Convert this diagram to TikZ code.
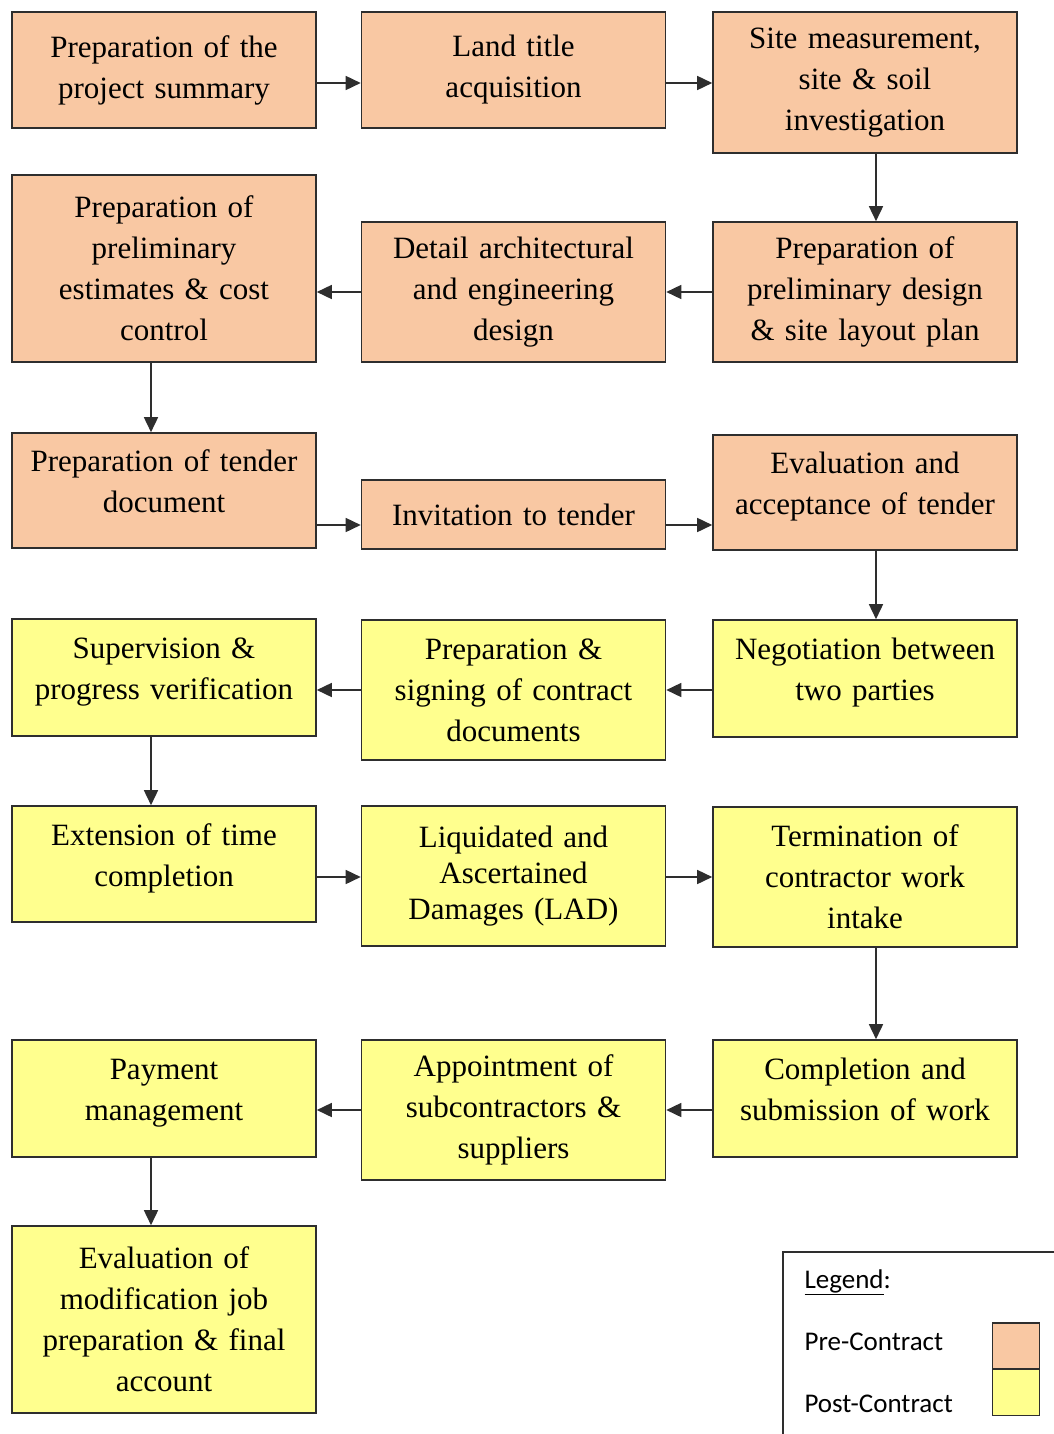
\documentclass[tikz,border=0pt]{standalone}
\usepackage{fontspec}
\setmainfont{Liberation Serif}
\setsansfont{Carlito}
\usetikzlibrary{arrows.meta}

\definecolor{precol}{HTML}{F9C8A3}
\definecolor{postcol}{HTML}{FFFF8E}
\definecolor{edgecol}{HTML}{2E2E2E}

\begin{document}
\begin{tikzpicture}[x=1pt,y=-1pt]
    \tikzstyle{every node}=[font=\rmfamily\fontsize{31}{41}\selectfont]
    \def\w{304pt}
    \def\lift{\rule[-18pt]{0pt}{18pt}}
    \tikzstyle{stage}=[draw=edgecol, line width=1.6pt, minimum width=\w, text width=290pt, align=center, inner sep=0pt]
    \tikzstyle{pre}=[stage, fill=precol]
    \tikzstyle{post}=[stage, fill=postcol]
    \tikzstyle{flow}=[draw=edgecol, line width=1.6pt, -{Triangle[length=15pt,width=14pt]}]
    \tikzstyle{swatch}=[draw=edgecol, line width=1.4pt, minimum width=47pt, minimum height=46pt, inner sep=0pt]
    \tikzstyle{legendtext}=[anchor=base west, font=\sffamily\fontsize{27}{32}\selectfont]
    \useasboundingbox (0,0) rectangle (1054,1434);

    % Pre-contract stages
    \node[pre, minimum height=116pt] (summary) at (164,70) {Preparation of the\\project summary};
    \node[pre, minimum height=116pt] (land) at (513.5,70) {Land title\\acquisition};
    \node[pre, minimum height=141pt] (site) at (865,82.5) {Site measurement,\\site \& soil\\investigation};
    \node[pre, minimum height=187pt] (estimate) at (164,268.5) {Preparation of\\preliminary\\estimates \& cost\\control};
    \node[pre, minimum height=140pt] (detail) at (513.5,292) {Detail architectural\\and engineering\\design};
    \node[pre, minimum height=140pt] (layout) at (865,292) {Preparation of\\preliminary design\\\& site layout plan};
    \node[pre, minimum height=115pt] (tenderdoc) at (164,490.5) {Preparation of tender\\document\lift};
    \node[pre, minimum height=69pt] (invite) at (513.5,514.5) {Invitation to tender};
    \node[pre, minimum height=115pt] (accept) at (865,492.5) {Evaluation and\\acceptance of tender\lift};

    % Post-contract stages
    \node[post, minimum height=117pt] (supervise) at (164,677.5) {Supervision \&\\progress verification\lift};
    \node[post, minimum height=140pt] (signing) at (513.5,690) {Preparation \&\\signing of contract\\documents};
    \node[post, minimum height=117pt] (negotiate) at (865,678.5) {Negotiation between\\two parties\lift};
    \node[post, minimum height=116pt] (extension) at (164,864) {Extension of time\\completion\lift};
    \node[post, minimum height=140pt] (damages) at (513.5,876) {Liquidated and\\[-5pt]Ascertained\\[-5pt]Damages (LAD)};
    \node[post, minimum height=140pt] (terminate) at (865,877) {Termination of\\contractor work\\intake};
    \node[post, minimum height=117pt] (payment) at (164,1098.5) {Payment\\management\lift};
    \node[post, minimum height=140pt] (appoint) at (513.5,1110) {Appointment of\\subcontractors \&\\suppliers};
    \node[post, minimum height=117pt] (complete) at (865,1098.5) {Completion and\\submission of work\lift};
    \node[post, minimum height=187pt] (final) at (164,1319.5) {Evaluation of\\modification job\\preparation \& final\\account};

    % Draw the flow
    \draw[flow] ([yshift=-13pt]summary.east) -- ([yshift=-13pt]land.west);
    \draw[flow] ([yshift=-13pt]land.east) -- ([yshift=-0.5pt]site.west);
    \draw[flow] ([xshift=11pt]site.south) -- ([xshift=11pt]layout.north);
    \draw[flow] (layout.west) -- (detail.east);
    \draw[flow] (detail.west) -- (detail.west -| estimate.east);
    \draw[flow] ([xshift=-13pt]estimate.south) -- ([xshift=-13pt]tenderdoc.north);
    \draw[flow] ([yshift=-34.5pt]tenderdoc.east) -- ([yshift=-10.5pt]invite.west);
    \draw[flow] ([yshift=-10.5pt]invite.east) -- ([yshift=-32.5pt]accept.west);
    \draw[flow] ([xshift=11pt]accept.south) -- ([xshift=11pt]negotiate.north);
    \draw[flow] ([yshift=-11.5pt]negotiate.west) -- (signing.east);
    \draw[flow] (signing.west) -- ([yshift=-12.5pt]supervise.east);
    \draw[flow] ([xshift=-13pt]supervise.south) -- ([xshift=-13pt]extension.north);
    \draw[flow] ([yshift=-13pt]extension.east) -- ([yshift=-1pt]damages.west);
    \draw[flow] ([yshift=-1pt]damages.east) -- (terminate.west);
    \draw[flow] ([xshift=11pt]terminate.south) -- ([xshift=11pt]complete.north);
    \draw[flow] ([yshift=-11.5pt]complete.west) -- (appoint.east);
    \draw[flow] (appoint.west) -- ([yshift=-11.5pt]payment.east);
    \draw[flow] ([xshift=-13pt]payment.south) -- ([xshift=-13pt]final.north);

    % Legend
    \draw[edgecol, line width=1.4pt] (1054,1252) -| (783,1434);
    \node[legendtext] (legend) at (801,1288) {\underline{Legend}:};
    \node[legendtext] (prelabel) at (801,1350) {Pre-Contract};
    \node[legendtext] (postlabel) at (801,1412) {Post-Contract};
    \node[swatch, fill=precol] (preswatch) at (1016,1346) {};
    \node[swatch, fill=postcol] (postswatch) at (1016,1392.5) {};
\end{tikzpicture}
\end{document}
